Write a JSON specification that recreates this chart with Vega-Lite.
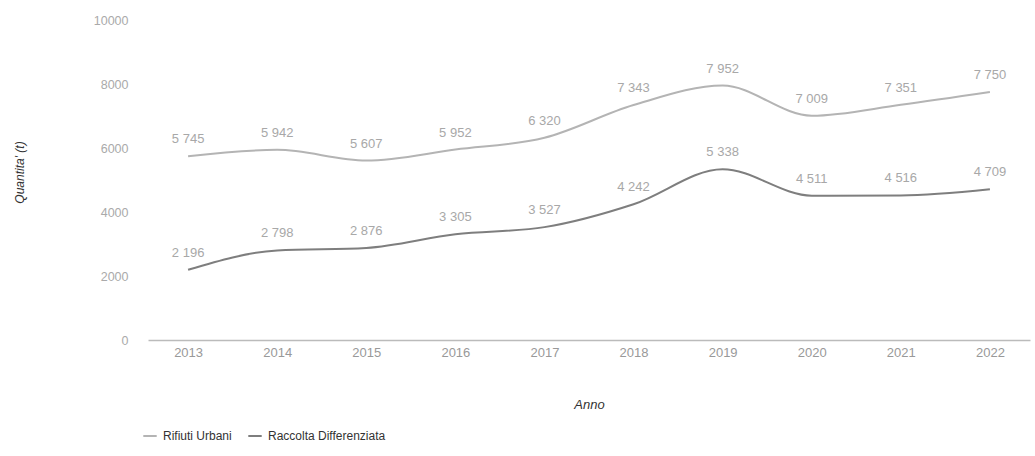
{
  "$schema": "https://vega.github.io/schema/vega-lite/v6.json",
  "autosize": {"type": "none"},
  "padding": {"left": 148, "top": 20, "right": 5, "bottom": 116},
  "width": 882,
  "height": 320,
  "background": "white",
  "config": {
    "locale": {"number": {"decimal": ",", "thousands": " ", "grouping": [3], "currency": ["", " €"]}},
    "font": "Liberation Sans",
    "view": {"stroke": null}
  },
  "data": {
    "values": [
      {"anno": "2013", "serie": "Rifiuti Urbani", "valore": 5745},
      {"anno": "2014", "serie": "Rifiuti Urbani", "valore": 5942},
      {"anno": "2015", "serie": "Rifiuti Urbani", "valore": 5607},
      {"anno": "2016", "serie": "Rifiuti Urbani", "valore": 5952},
      {"anno": "2017", "serie": "Rifiuti Urbani", "valore": 6320},
      {"anno": "2018", "serie": "Rifiuti Urbani", "valore": 7343},
      {"anno": "2019", "serie": "Rifiuti Urbani", "valore": 7952},
      {"anno": "2020", "serie": "Rifiuti Urbani", "valore": 7009},
      {"anno": "2021", "serie": "Rifiuti Urbani", "valore": 7351},
      {"anno": "2022", "serie": "Rifiuti Urbani", "valore": 7750},
      {"anno": "2013", "serie": "Raccolta Differenziata", "valore": 2196},
      {"anno": "2014", "serie": "Raccolta Differenziata", "valore": 2798},
      {"anno": "2015", "serie": "Raccolta Differenziata", "valore": 2876},
      {"anno": "2016", "serie": "Raccolta Differenziata", "valore": 3305},
      {"anno": "2017", "serie": "Raccolta Differenziata", "valore": 3527},
      {"anno": "2018", "serie": "Raccolta Differenziata", "valore": 4242},
      {"anno": "2019", "serie": "Raccolta Differenziata", "valore": 5338},
      {"anno": "2020", "serie": "Raccolta Differenziata", "valore": 4511},
      {"anno": "2021", "serie": "Raccolta Differenziata", "valore": 4516},
      {"anno": "2022", "serie": "Raccolta Differenziata", "valore": 4709}
    ]
  },
  "encoding": {
    "x": {
      "field": "anno", "type": "ordinal",
      "scale": {"type": "point", "padding": 0.45},
      "axis": {
        "title": "Anno", "titleFontStyle": "italic", "titleFontWeight": "normal", "titleFontSize": 13, "titleColor": "#333",
        "titleY": 58,
        "labelAngle": 0, "labelColor": "#999", "labelFontSize": 13, "labelPadding": 6,
        "ticks": false, "domainColor": "#bbb", "domainWidth": 1.5, "grid": false
      }
    },
    "y": {
      "field": "valore", "type": "quantitative",
      "scale": {"domain": [0, 10000], "nice": false},
      "axis": {
        "title": "Quantita' (t)", "titleFontStyle": "italic", "titleFontWeight": "normal", "titleFontSize": 12, "titleColor": "#333",
        "titleX": -122, "titleY": 152,
        "values": [0, 2000, 4000, 6000, 8000, 10000], "format": "d",
        "labelColor": "#aaa", "labelFontSize": 12.5, "labelPadding": 20,
        "ticks": false, "domain": false, "grid": false
      }
    }
  },
  "layer": [
    {
      "mark": {"type": "line", "interpolate": "monotone", "strokeWidth": 2},
      "encoding": {
        "color": {
          "field": "serie", "type": "nominal",
          "scale": {"domain": ["Rifiuti Urbani", "Raccolta Differenziata"], "range": ["#b4b4b4", "#7e7e7e"]},
          "legend": {
            "title": null, "orient": "none", "direction": "horizontal",
            "legendX": -6, "legendY": 408,
            "symbolType": "stroke", "symbolSize": 180, "symbolStrokeWidth": 2,
            "labelFontSize": 12, "labelColor": "#333", "columnPadding": 12, "labelOffset": 5
          }
        }
      }
    },
    {
      "mark": {"type": "text", "dy": -17, "fontSize": 13, "color": "#a8a8a8"},
      "encoding": {
        "text": {"field": "valore", "type": "quantitative", "format": ","}
      }
    }
  ]
}
